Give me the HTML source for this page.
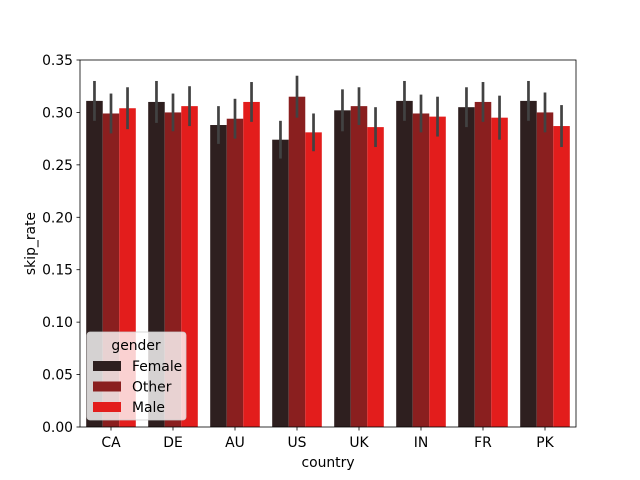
<!DOCTYPE html>
<html><head><meta charset="utf-8"><style>body{margin:0;background:#fff}svg{display:block;font-family:"DejaVu Sans","Liberation Sans",sans-serif}</style></head>
<body>
<svg id="chart" width="640" height="480"></svg>
<script>
const categories=["CA","DE","AU","US","UK","IN","FR","PK"];
const seriesNames=["Female","Other","Male"];
const femaleValues=[0.311,0.310,0.288,0.274,0.302,0.311,0.305,0.311];
const otherValues=[0.299,0.300,0.294,0.315,0.306,0.299,0.310,0.300];
const maleValues=[0.304,0.306,0.310,0.281,0.286,0.296,0.295,0.287];
const femaleErr=[0.019,0.020,0.018,0.018,0.020,0.019,0.019,0.019];
const otherErr=[0.019,0.018,0.019,0.020,0.018,0.018,0.019,0.019];
const maleErr=[0.020,0.019,0.019,0.018,0.019,0.019,0.021,0.020];
const yTicks=[0,0.05,0.10,0.15,0.20,0.25,0.30,0.35];
const yTickLabels=["0.00","0.05","0.10","0.15","0.20","0.25","0.30","0.35"];
const colors=["#2e1f1f","#8a1f1f","#e31d1c"];
const NS="http://www.w3.org/2000/svg",svg=document.getElementById("chart");
const L=80,R=576,T=60,B=427,FS=13.9;
const y=v=>B-(v/0.35)*(B-T);
const bw=(R-L)/categories.length;
const x=i=>L+bw*i;
function mk(t,a,txt){const e=document.createElementNS(NS,t);for(const k in a)e.setAttribute(k,a[k]);if(txt!=null)e.textContent=txt;svg.appendChild(e);return e;}
const series=[femaleValues,otherValues,maleValues],errs=[femaleErr,otherErr,maleErr];
const barW=bw*0.8/3;
series.forEach((vals,s)=>{vals.forEach((v,i)=>{
 const bx=x(i)+bw*0.1+s*barW;
 const r=mk("rect",{x:bx,y:y(v),width:barW,height:B-y(v),fill:colors[s]});
 
 
 const e=mk("line",{x1:bx+barW/2,x2:bx+barW/2,y1:y(v-errs[s][i]),y2:y(v+errs[s][i]),stroke:"#424242","stroke-width":2.7});
 
 
});});
const ax=mk("rect",{x:L,y:T,width:R-L,height:B-T,fill:"none",stroke:"#000","stroke-width":0.8});


yTicks.forEach((t,i)=>{
 mk("line",{x1:L-3.5,x2:L,y1:y(t),y2:y(t),stroke:"#000","stroke-width":0.8});
 const tl=mk("text",{x:L-7,y:y(t)+5,"text-anchor":"end","font-size":FS},yTickLabels[i]);
 
 
});
categories.forEach((c,i)=>{
 const cx=x(i)+bw/2;
 mk("line",{x1:cx,x2:cx,y1:B,y2:B+3.5,stroke:"#000","stroke-width":0.8});
 const tl=mk("text",{x:cx,y:B+20,"text-anchor":"middle","font-size":FS},c);
 
 
});
const xt=mk("text",{x:(L+R)/2,y:467,"text-anchor":"middle","font-size":FS},"country");


const yt=mk("text",{x:0,y:0,"text-anchor":"middle","font-size":FS,transform:"translate(35,"+((T+B)/2)+") rotate(-90)"},"skip_rate");


const lg=mk("rect",{x:87,y:332,width:99,height:88,rx:3,fill:"#fff","fill-opacity":0.8,stroke:"#ccc","stroke-width":0.8});


const lt=mk("text",{x:136,y:350,"text-anchor":"middle","font-size":FS},"gender");


seriesNames.forEach((n,s)=>{
 const yy=361+s*20.5;
 mk("rect",{x:93,y:yy,width:28,height:10,fill:colors[s]});
 const t=mk("text",{x:132,y:yy+10,"font-size":FS},n);
 
 
});
</script>
</body></html>
